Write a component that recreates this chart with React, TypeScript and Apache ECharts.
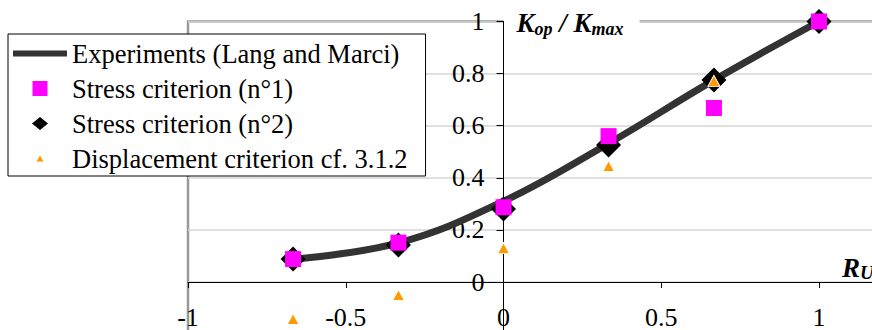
import React, { useEffect, useRef } from "react";
import * as echarts from "echarts";

// ---- data ----
const rValues = [-0.667, -0.333, 0, 0.333, 0.667, 1];
const experiments = [0.088, 0.15, 0.31, 0.532, 0.775, 1.0];
const stress1 = [0.088, 0.151, 0.287, 0.56, 0.668, 1.0];
const stress2 = [0.088, 0.142, 0.28, 0.526, 0.775, 1.0];
const displacementR = [-0.667, -0.333, 0, 0.333, 0.667];
const displacement = [-0.142, -0.05, 0.13, 0.445, 0.772];

const xTickValues = [-1, -0.5, 0, 0.5, 1];
const xTickLabels = ["-1", "-0.5", "0", "0.5", "1"];
const yTickValues = [0, 0.2, 0.4, 0.6, 0.8, 1];
const yTickLabels = ["0", "0.2", "0.4", "0.6", "0.8", "1"];

const seriesNames = [
  "Experiments (Lang and Marci)",
  "Stress criterion (n°1)",
  "Stress criterion (n°2)",
  "Displacement criterion cf. 3.1.2",
];

const FONT = "'Liberation Serif', 'Times New Roman', serif";

const X_MIN = -1;
const X_MAX = 1.2;
const Y_MIN = -0.2;
const Y_MAX = 1;

function pick(values: number[], labels: string[], v: number): string {
  for (let i = 0; i < values.length; i++) {
    if (Math.abs(values[i] - v) < 1e-6) return labels[i];
  }
  return "";
}

export default function App() {
  const ref = useRef<HTMLDivElement>(null);

  useEffect(() => {
    if (!ref.current) return;
    const chart = echarts.init(ref.current, null, { renderer: "svg" });

    const gridLeft = 188;
    const gridTop = 21.5;
    const gridWidth = 694.1;
    const gridHeight = 312.6;
    // place both axes where the other axis is zero
    const yZeroFromBottom = (gridHeight * (0 - Y_MIN)) / (Y_MAX - Y_MIN);
    const xZeroFromLeft = (gridWidth * (0 - X_MIN)) / (X_MAX - X_MIN);

    const corners = "M0,0L0.01,0L0,0.01Z M16,15L15.99,15L16,14.99Z ";

    const option: any = {
      animation: false,
      backgroundColor: "#ffffff",
      textStyle: { fontFamily: FONT },
      grid: {
        left: gridLeft,
        top: gridTop,
        width: gridWidth,
        height: gridHeight,
        show: true,
        borderColor: "#999999",
        borderWidth: 2.5,
        backgroundColor: "transparent",
        containLabel: false,
        outerBoundsMode: "none",
      },
      legend: {
        orient: "vertical",
        left: 8,
        top: 34,
        z: 10,
        padding: [6, 18, 4, 5],
        itemGap: 8,
        itemWidth: 54,
        itemHeight: 15,
        backgroundColor: "#ffffff",
        borderColor: "#000000",
        borderWidth: 1,
        borderRadius: 0,
        selectedMode: false,
        symbolKeepAspect: true,
        textStyle: {
          fontFamily: FONT,
          fontSize: 26.5,
          lineHeight: 25,
          color: "#000000",
        },
        data: [
          {
            name: seriesNames[0],
            icon: "path://M0,0H54V6H0Z",
            itemStyle: { color: "#333333", borderWidth: 0 },
          },
          {
            name: seriesNames[1],
            icon: "path://M0,0H15V15H0Z",
            itemStyle: { color: "#ff00ff", borderWidth: 0 },
          },
          {
            name: seriesNames[2],
            icon: "path://" + corners + "M8,1L16,7.5L8,14L0,7.5Z",
            itemStyle: { color: "#000000", borderWidth: 0 },
          },
          {
            name: seriesNames[3],
            icon: "path://" + corners + "M8,4.5L11.5,10.5L4.5,10.5Z",
            itemStyle: { color: "#ff9900", borderWidth: 0 },
          },
        ],
      },
      xAxis: {
        type: "value",
        min: X_MIN,
        max: X_MAX,
        interval: 0.5,
        position: "bottom",
        offset: -yZeroFromBottom,
        name: "{r|R}{s|U}",
        nameLocation: "end",
        nameGap: -40,
        nameMoveOverlap: false,
        nameTextStyle: {
          align: "left",
          verticalAlign: "bottom",
          rich: {
            r: {
              fontFamily: FONT,
              fontSize: 27,
              fontWeight: "bold",
              fontStyle: "italic",
              color: "#000",
              lineHeight: 28,
            },
            s: {
              fontFamily: FONT,
              fontSize: 19,
              fontWeight: "bold",
              fontStyle: "italic",
              color: "#000",
              lineHeight: 19,
              verticalAlign: "bottom",
            },
          },
        },
        axisLine: {
          show: true,
          onZero: false,
          lineStyle: { color: "#000000", width: 1 },
        },
        axisTick: {
          show: true,
          inside: false,
          length: 6,
          lineStyle: { color: "#000000", width: 1 },
        },
        axisLabel: {
          show: true,
          margin: 22,
          fontFamily: FONT,
          fontSize: 26,
          color: "#000000",
          showMinLabel: true,
          showMaxLabel: true,
          hideOverlap: false,
          formatter: (v: number) => pick(xTickValues, xTickLabels, v),
        },
        splitLine: { show: false },
      },
      yAxis: {
        type: "value",
        min: Y_MIN,
        max: Y_MAX,
        interval: 0.2,
        position: "left",
        offset: -xZeroFromLeft,
        name: "{k|K}{s|op}{k| / K}{s|max}",
        nameLocation: "end",
        nameGap: 0,
        nameMoveOverlap: false,
        nameTextStyle: {
          align: "left",
          verticalAlign: "middle",
          backgroundColor: "#ffffff",
          padding: [3, 16, 1, 13],
          rich: {
            k: {
              fontFamily: FONT,
              fontSize: 27,
              fontWeight: "bold",
              fontStyle: "italic",
              color: "#000",
              lineHeight: 30,
            },
            s: {
              fontFamily: FONT,
              fontSize: 18,
              fontWeight: "bold",
              fontStyle: "italic",
              color: "#000",
              lineHeight: 18,
              verticalAlign: "bottom",
            },
          },
        },
        axisLine: {
          show: true,
          onZero: false,
          lineStyle: { color: "#000000", width: 1 },
        },
        axisTick: {
          show: true,
          inside: false,
          length: 7,
          lineStyle: { color: "#000000", width: 1 },
        },
        axisLabel: {
          show: true,
          margin: 19,
          fontFamily: FONT,
          fontSize: 26,
          color: "#000000",
          hideOverlap: false,
          formatter: (v: number) => pick(yTickValues, yTickLabels, v),
        },
        splitLine: {
          show: true,
          showMinLine: false,
          lineStyle: { color: "#d6d6d6", width: 1.5 },
        },
      },
      series: [
        {
          name: seriesNames[0],
          type: "line",
          data: rValues.map((x, i) => [x, experiments[i]]),
          smooth: 0.4,
          symbol: "none",
          showSymbol: false,
          clip: false,
          silent: true,
          z: 2,
          lineStyle: { color: "#333333", width: 7, cap: "butt" },
          itemStyle: { color: "#333333" },
          emphasis: { disabled: true },
        },
        {
          name: seriesNames[1],
          type: "scatter",
          data: rValues.map((x, i) => [x, stress1[i]]),
          symbol: "rect",
          symbolSize: 16,
          clip: false,
          silent: true,
          z: 4,
          itemStyle: { color: "#ff00ff", opacity: 1 },
          emphasis: { disabled: true },
        },
        {
          name: seriesNames[2],
          type: "scatter",
          data: rValues.map((x, i) => [x, stress2[i]]),
          symbol: "diamond",
          symbolSize: 25,
          clip: false,
          silent: true,
          z: 3,
          itemStyle: { color: "#000000", opacity: 1 },
          emphasis: { disabled: true },
        },
        {
          name: seriesNames[3],
          type: "scatter",
          data: displacementR.map((x, i) => [x, displacement[i]]),
          symbol: "triangle",
          symbolSize: [12, 11],
          clip: false,
          silent: true,
          z: 5,
          itemStyle: {
            color: "#ff9900",
            borderColor: "#ffffff",
            borderWidth: 1,
            opacity: 1,
          },
          emphasis: { disabled: true },
        },
      ],
    };

    chart.setOption(option);
    return () => {
      chart.dispose();
    };
  }, []);

  return (
    <div
      ref={ref}
      style={{
        position: "absolute",
        left: 0,
        top: 0,
        width: 872,
        height: 330,
        background: "#ffffff",
      }}
    />
  );
}
